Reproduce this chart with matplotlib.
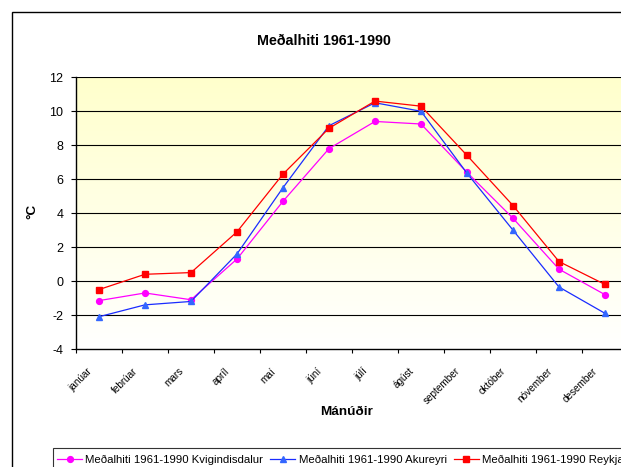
import matplotlib
matplotlib.use("Agg")
import matplotlib.pyplot as plt
import numpy as np
from matplotlib.lines import Line2D
from matplotlib.patches import Rectangle
from matplotlib.transforms import ScaledTranslation

plt.rcParams['font.family'] = ['Liberation Sans', 'DejaVu Sans']

months = ["janúar", "febrúar", "mars", "apríl", "maí", "júní", "júlí",
          "ágúst", "september", "október", "nóvember", "desember"]
kvigindisdalur = [-1.15, -0.7, -1.1, 1.3, 4.7, 7.8, 9.4, 9.25, 6.4, 3.7, 0.7, -0.8]
akureyri = [-2.1, -1.4, -1.2, 1.6, 5.5, 9.15, 10.5, 10.0, 6.35, 3.0, -0.35, -1.9]
reykjavik = [-0.5, 0.4, 0.5, 2.9, 6.3, 9.0, 10.6, 10.3, 7.4, 4.45, 1.15, -0.2]
series_labels = ["Meðalhiti 1961-1990 Kvigindisdalur",
                 "Meðalhiti 1961-1990 Akureyri",
                 "Meðalhiti 1961-1990 Reykjavík"]
title = "Meðalhiti 1961-1990"
xlabel = "Mánúðir"
ylabel = "°C"
yticks = [-4, -2, 0, 2, 4, 6, 8, 10, 12]

W, H = 621, 467
fig = plt.figure(figsize=(W / 100, H / 100), dpi=100)

# outer chart frame (extends past the image edges)
fig.patches.append(Rectangle((12 / W, -0.2), 1.2, 1 - 12 / H + 0.2,
                             transform=fig.transFigure, fill=False,
                             edgecolor='black', linewidth=1.0))
# legend frame (extends past the image edges)
fig.patches.append(Rectangle((53 / W, -0.2), 1.2, 1 - 448.3 / H + 0.2,
                             transform=fig.transFigure, fill=False,
                             edgecolor='#333333', linewidth=0.8))

ax_l, ax_r, ax_t, ax_b = 76, 628, 77.3, 349
ax = fig.add_axes([ax_l / W, 1 - ax_b / H, (ax_r - ax_l) / W, (ax_b - ax_t) / H])

x = np.arange(len(months))
ax.set_xlim(-0.5, len(months) - 0.5)
ax.set_ylim(-4, 12)

# gradient background
grad = np.linspace(0, 1, 256).reshape(-1, 1)
top = np.array([1.0, 1.0, 0.80])
bot = np.array([1.0, 1.0, 1.0])
img = bot[None, None, :] * (1 - grad[:, :, None]) + top[None, None, :] * grad[:, :, None]
ax.imshow(img, extent=(-0.5, len(months) - 0.5, -4, 12), origin='lower',
          aspect='auto', zorder=0)

for yv in yticks[1:]:
    ax.axhline(yv, color='black', linewidth=0.8, zorder=1)

ax.plot(x, kvigindisdalur, color='#FF00FF', linewidth=0.9, marker='o',
        markersize=4.2, markerfacecolor='#FF00FF', markeredgecolor='#FF00FF', zorder=3)
ax.plot(x, akureyri, color='#1a2cff', linewidth=0.9, marker='^',
        markersize=4.8, markerfacecolor='#3366FF', markeredgecolor='#3366FF', zorder=3)
ax.plot(x, reykjavik, color='#FF0000', linewidth=0.9, marker='s',
        markersize=4.2, markerfacecolor='#FF0000', markeredgecolor='#FF0000', zorder=4)

for s in ['top', 'right']:
    ax.spines[s].set_visible(False)
for s in ['left', 'bottom']:
    ax.spines[s].set_linewidth(1.0)
    ax.spines[s].set_zorder(5)

ax.set_yticks(yticks)
ax.set_yticklabels([str(v) for v in yticks], fontsize=9)
ax.tick_params(axis='y', direction='out', length=3.6, width=0.8, pad=5.5)

ax.set_xticks(np.arange(-0.5, len(months), 1.0))
ax.set_xticklabels([])
ax.tick_params(axis='x', which='major', direction='out', length=3, width=0.8)
ax.set_xticks(x, minor=True)
ax.set_xticklabels(months, minor=True, fontsize=7.2, rotation=45,
                   ha='right', va='center', rotation_mode='anchor')
ax.tick_params(axis='x', which='minor', length=0, pad=14.8)
off = ScaledTranslation(-9 / 100, 0, fig.dpi_scale_trans)
for lab in ax.get_xticklabels(minor=True):
    lab.set_transform(lab.get_transform() + off)

fig.text(324 / W, 1 - 41 / H, title, ha='center', va='center',
         fontsize=10.3, fontweight='bold')
fig.text(346.7 / W, 1 - 411.7 / H, xlabel, ha='center', va='center',
         fontsize=9.7, fontweight='bold')
fig.text(32.7 / W, 1 - 211.7 / H, ylabel, ha='center', va='center',
         fontsize=9.7, fontweight='bold', rotation=90)

handles = [
    Line2D([], [], color='#FF00FF', linewidth=0.9, marker='o', markersize=4.2),
    Line2D([], [], color='#1a2cff', linewidth=0.9, marker='^', markersize=4.8,
           markerfacecolor='#3366FF', markeredgecolor='#3366FF'),
    Line2D([], [], color='#FF0000', linewidth=0.9, marker='s', markersize=4.2),
]
leg = fig.legend(handles, series_labels, ncol=3, loc='upper left',
                 bbox_to_anchor=(53 / W, 1 - 450.8 / H), frameon=False,
                 fontsize=8.2, handlelength=2.2, handletextpad=0.3,
                 columnspacing=0.6, borderpad=0.35, borderaxespad=0)

fig.savefig("out.png", dpi=100)
